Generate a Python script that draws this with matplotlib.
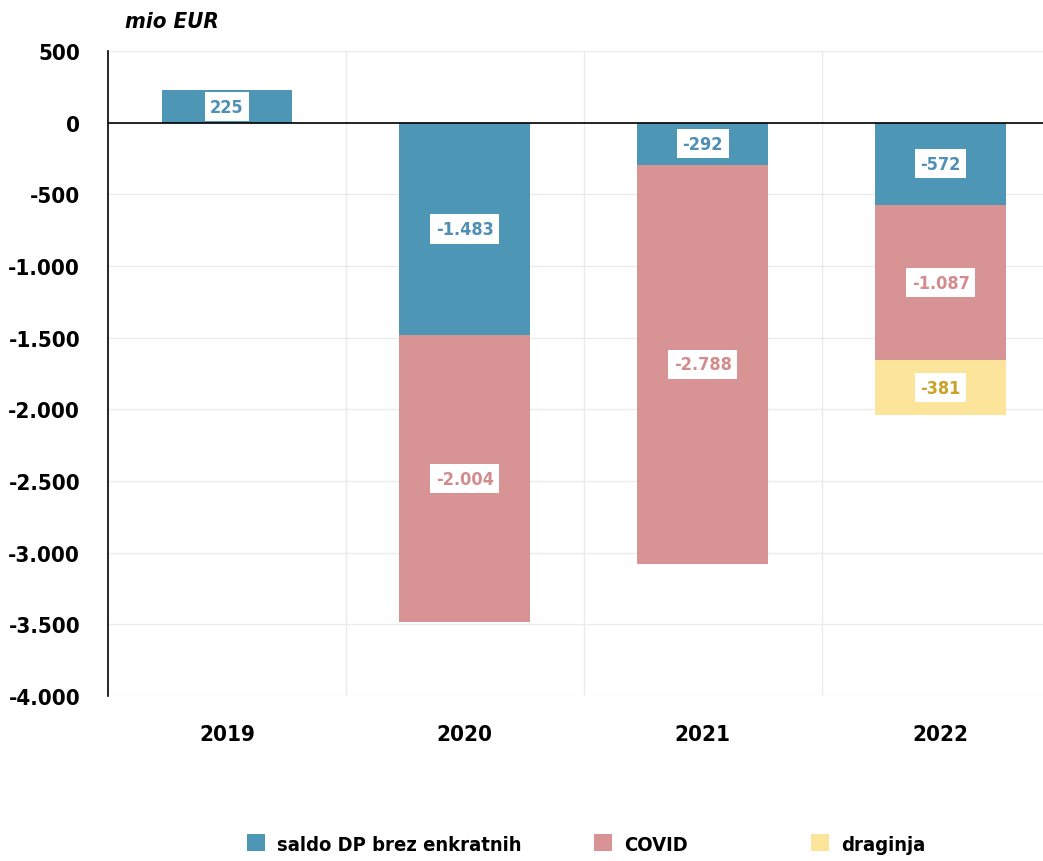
import matplotlib
matplotlib.use("Agg")
import matplotlib.pyplot as plt
from matplotlib.patches import Patch
import numpy as np

years = ["2019", "2020", "2021", "2022"]
saldo = [225, -1483, -292, -572]
covid = [0, -2004, -2788, -1087]
draginja = [0, 0, 0, -381]
series_names = ["saldo DP brez enkratnih", "COVID", "draginja"]
yticks = [500, 0, -500, -1000, -1500, -2000, -2500, -3000, -3500, -4000]

colors = ["#4E96B6", "#D89495", "#FDE49B"]
text_colors = ["#4E8FB3", "#D28C8D", "#C9A329"]

plt.rcParams['font.family'] = ["DejaVu Sans"]
plt.rcParams['font.stretch'] = "condensed"

fig = plt.figure(figsize=(10.43, 8.62), dpi=100)
W, H = 1043, 862
ax = fig.add_axes([108 / W, 1 - 697 / H, (1043 - 108) / W, (697 - 52) / H])

x = np.arange(len(years))
bw = 0.55
series = [saldo, covid, draginja]
bottoms = np.zeros(len(years))
for vals, c, tc in zip(series, colors, text_colors):
    vals = np.array(vals, dtype=float)
    ax.bar(x, vals, bw, bottom=bottoms, color=c, zorder=3)
    for xi, v, b in zip(x, vals, bottoms):
        if v == 0:
            continue
        lab = f"{abs(int(v)):,}".replace(",", ".")
        if v < 0:
            lab = "-" + lab
        ax.text(xi, b + v / 2, lab, ha="center", va="center", color=tc,
                fontsize=13, fontweight="bold", zorder=5,
                bbox=dict(facecolor="white", edgecolor="none", pad=4))
    bottoms = bottoms + vals

ax.set_xlim(-0.5, 3.43)
ax.set_ylim(-4000, 500)
ax.set_yticks(yticks)
ax.set_yticklabels([f"{t:,}".replace(",", ".") for t in yticks],
                   fontsize=16, fontweight="bold")
ax.set_xticks(x)
ax.set_xticklabels(years, fontsize=16, fontweight="bold")
ax.tick_params(axis="both", length=0)
ax.tick_params(axis="x", pad=20)
ax.tick_params(axis="y", pad=20)

for yt in yticks:
    ax.axhline(yt, color="#EBEBEB", lw=1, zorder=1)
for xb in [0.5, 1.5, 2.5]:
    ax.axvline(xb, color="#EBEBEB", lw=1, zorder=1)
ax.axhline(0, color="black", lw=1.2, zorder=4)

for s in ["top", "right", "bottom"]:
    ax.spines[s].set_visible(False)
ax.spines["left"].set_color("black")
ax.spines["left"].set_linewidth(1.2)

fig.text(125 / W, 1 - 22 / H, "mio EUR", fontsize=16, fontstyle="italic",
         fontweight="bold", va="center", ha="left")

leg_x = [247, 594, 811]
for name, c, lx in zip(series_names, colors, leg_x):
    fig.legend([Patch(facecolor=c, edgecolor="none")], [name], loc="center left",
               bbox_to_anchor=(lx / W, 1 - 845 / H), frameon=False,
               prop=dict(size=14.5, weight="bold", stretch="condensed"),
               handlelength=0.9, handleheight=0.9, handletextpad=0.6,
               borderpad=0, borderaxespad=0)

fig.savefig("out.png", dpi=100)
